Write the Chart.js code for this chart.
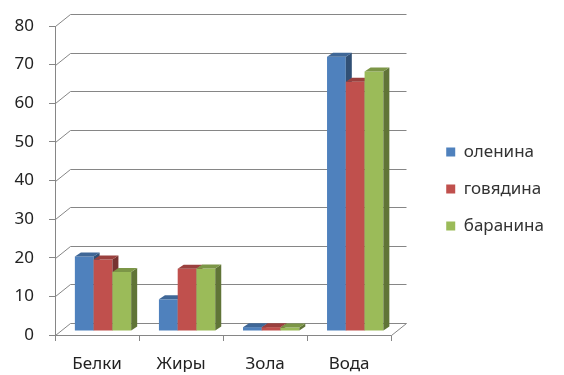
<!DOCTYPE html>
<html>
<head>
<meta charset="utf-8">
<script src="https://cdn.jsdelivr.net/npm/chart.js@4.4.1/dist/chart.umd.min.js"></script>
<style>
  html, body { margin: 0; background: #fff; }
  #wrap { width: 564px; height: 375px; }
</style>
</head>
<body>
<div id="wrap"><canvas id="chart"></canvas></div>
<script>
const categories = ['Белки', 'Жиры', 'Зола', 'Вода'];
const seriesNames = ['оленина', 'говядина', 'баранина'];
const olenina = [19.3, 8.2, 1.0, 71];
const govyadina = [18.5, 16.1, 1.0, 64.5];
const baranina = [15.3, 16.2, 0.9, 67.2];
const yMax = 80;
const yStep = 10;

const colors = ['#4F81BD', '#C0504D', '#9BBB59'];
const FONT = "'Noto Sans', sans-serif";
const GRID = '#868686';

// darken a hex colour by factor k
const shade = (hex, k) => {
    const n = parseInt(hex.slice(1), 16);
    const r = Math.round(((n >> 16) & 255) * k);
    const g = Math.round(((n >> 8) & 255) * k);
    const b = Math.round((n & 255) * k);
    return `rgb(${r},${g},${b})`;
};

// fake 3D: back wall, floor and bar sides/tops
const wallDepth = { dx: 15, dy: 12 };
const barShift = { dx: 6, dy: -4 };
const barDepth = { dx: 6, dy: 4 };

const fake3d = {
    id: 'fake3d',
    beforeDatasetsDraw(chart) {
        const ctx = chart.ctx;
        const { left, right, bottom } = chart.chartArea;
        const yScale = chart.scales.y;
        const L = Math.round(left) + 0.5;
        const R = Math.round(right) + 0.5;
        const B = Math.round(bottom) + 0.5;
        const { dx, dy } = wallDepth;

        ctx.save();
        ctx.strokeStyle = GRID;
        ctx.lineWidth = 1;
        ctx.fillStyle = '#fff';
        ctx.beginPath();
        ctx.moveTo(L, B);
        ctx.lineTo(R, B);
        ctx.lineTo(R + dx, B - dy);
        ctx.lineTo(L + dx, B - dy);
        ctx.closePath();
        ctx.fill();
        ctx.stroke();

        yScale.ticks.forEach(t => {
            if (t.value === 0) return;
            const py = Math.round(yScale.getPixelForValue(t.value)) + 0.5;
            ctx.beginPath();
            ctx.moveTo(L, py);
            ctx.lineTo(L + dx, py - dy);
            ctx.lineTo(R + dx, py - dy);
            ctx.stroke();
        });
        ctx.restore();

        // bars, left to right, each with its side and top
        const metas = chart.data.datasets.map((d, i) => chart.getDatasetMeta(i));
        ctx.save();
        ctx.translate(barShift.dx, barShift.dy);
        categories.forEach((c, i) => {
            metas.forEach((meta, di) => {
                const bar = meta.data[i];
                if (!bar) return;
                bar.draw(ctx);
                const { x, y, base, width } = bar.getProps(['x', 'y', 'base', 'width']);
                const l = x - width / 2;
                const r = x + width / 2;
                const col = colors[di];
                ctx.fillStyle = shade(col, 0.62);
                ctx.beginPath();
                ctx.moveTo(r, y);
                ctx.lineTo(r + barDepth.dx, y - barDepth.dy);
                ctx.lineTo(r + barDepth.dx, base - barDepth.dy);
                ctx.lineTo(r, base);
                ctx.closePath();
                ctx.fill();
                ctx.fillStyle = shade(col, 0.8);
                ctx.beginPath();
                ctx.moveTo(l, y);
                ctx.lineTo(l + barDepth.dx, y - barDepth.dy);
                ctx.lineTo(r + barDepth.dx, y - barDepth.dy);
                ctx.lineTo(r, y);
                ctx.closePath();
                ctx.fill();
            });
        });
        ctx.restore();
        return false;
    }
};

// empty spacer axes to place the plot area
const spacer = (position, size) => ({
    type: 'linear',
    position,
    display: position === 'right' ? false : true,
    grid: { display: false },
    border: { display: false },
    ticks: { display: false },
    afterFit(s) {
        if (position === 'right') s.width = size; else s.height = size;
    }
});

const ctx = document.getElementById('chart').getContext('2d');
new Chart(ctx, {
    type: 'bar',
    data: {
        labels: categories,
        datasets: [olenina, govyadina, baranina].map((data, i) => ({
            label: seriesNames[i],
            data,
            backgroundColor: colors[i],
            borderWidth: 0,
            categoryPercentage: 0.67,
            barPercentage: 1.0
        }))
    },
    options: {
        responsive: true,
        maintainAspectRatio: false,
        animation: false,
        layout: { padding: { left: 13, top: 6, right: 10, bottom: 3 } },
        plugins: {
            tooltip: { enabled: false },
            legend: {
                position: 'right',
                labels: {
                    boxWidth: 9,
                    boxHeight: 9,
                    padding: 20,
                    color: '#333',
                    font: { family: FONT, size: 17 }
                }
            }
        },
        scales: {
            x: {
                grid: { drawOnChartArea: false, tickLength: 6, color: GRID, offset: true },
                border: { color: GRID },
                ticks: { color: '#222', padding: 13, font: { family: FONT, size: 17 } },
                afterFit(s) { s.height = 37; }
            },
            y: {
                min: 0,
                max: yMax,
                ticks: { stepSize: yStep, color: '#222', padding: 15, font: { family: FONT, size: 17 } },
                grid: { drawOnChartArea: false, tickLength: 6, color: GRID },
                border: { color: GRID },
                afterFit(s) { s.width = 42; }
            },
            padTop: spacer('top', 20),
            padRight: spacer('right', 35)
        }
    },
    plugins: [fake3d]
});
</script>
</body>
</html>
